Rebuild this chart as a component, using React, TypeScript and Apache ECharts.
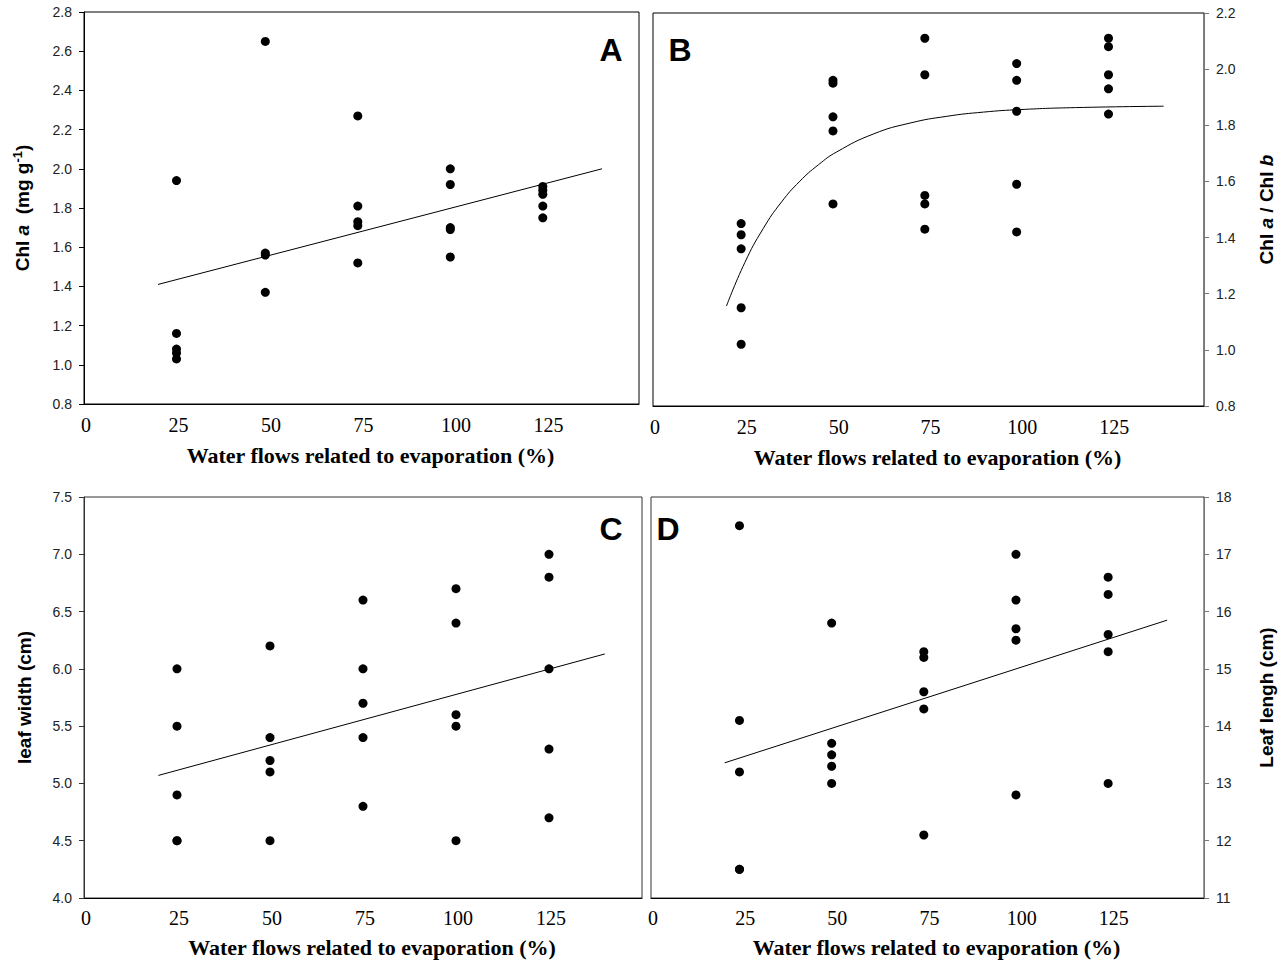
import React, { useEffect, useRef } from "react";
import * as echarts from "echarts";

// x positions of the treatment groups (water flow, % of evaporation)
const xGroupsA = [25, 49, 74, 99, 124];
const xGroupsB = [24, 49, 74, 99, 124];
const xGroupsC = [25, 50, 75, 100, 125];
const xGroupsD = [24, 49, 74, 99, 124];

// Panel A: Chl a (mg g-1)
const chlA = [
  [1.94, 1.16, 1.08, 1.06, 1.03],
  [2.65, 1.57, 1.56, 1.37],
  [2.27, 1.81, 1.73, 1.71, 1.52],
  [2.0, 1.92, 1.7, 1.69, 1.55],
  [1.91, 1.89, 1.87, 1.81, 1.75],
];
const fitAx = [20, 140];
const fitAy = [1.41, 2.0];

// Panel B: Chl a / Chl b
const chlRatio = [
  [1.45, 1.41, 1.36, 1.15, 1.02],
  [1.96, 1.95, 1.83, 1.78, 1.52],
  [2.11, 1.98, 1.55, 1.52, 1.43],
  [2.02, 1.96, 1.85, 1.59, 1.42],
  [2.11, 2.08, 1.98, 1.93, 1.84],
];
const fitBx = [20, 25, 30, 35, 40, 45, 50, 60, 70, 80, 90, 100, 115, 139];
const fitBy = [1.156, 1.311, 1.432, 1.527, 1.601, 1.659, 1.705, 1.769, 1.808, 1.832, 1.847, 1.856, 1.863, 1.868];

// Panel C: leaf width (cm)
const leafWidth = [
  [6.0, 5.5, 4.9, 4.5, 4.5],
  [6.2, 5.4, 5.2, 5.1, 4.5],
  [6.6, 6.0, 5.7, 5.4, 4.8],
  [6.7, 6.4, 5.6, 5.5, 4.5],
  [7.0, 6.8, 6.0, 5.3, 4.7],
];
const fitCx = [20, 140];
const fitCy = [5.07, 6.13];

// Panel D: Leaf length (cm)
const leafLength = [
  [17.5, 14.1, 13.2, 11.5, 11.5],
  [15.8, 13.7, 13.5, 13.3, 13.0],
  [15.3, 15.2, 14.6, 14.3, 12.1],
  [17.0, 16.2, 15.7, 15.5, 12.8],
  [16.6, 16.3, 15.6, 15.3, 13.0],
];
const fitDx = [20, 140];
const fitDy = [13.36, 15.85];

const xTitle = "Water flows related to evaporation (%)";
const SERIF = "'Times New Roman', 'Liberation Serif', serif";
const SANS = "Arial, 'Liberation Sans', sans-serif";

function points(xs: number[], groups: number[][]) {
  const out: number[][] = [];
  groups.forEach((g, i) => g.forEach((v) => out.push([xs[i], v])));
  return out;
}
function pairs(xs: number[], ys: number[]) {
  return xs.map((x, i) => [x, ys[i]]);
}

function xAxis(gridIndex: number, margin: number, nameGap: number) {
  return {
    type: "value",
    gridIndex,
    min: 0,
    max: 150,
    interval: 25,
    name: xTitle,
    nameLocation: "middle",
    nameGap,
    nameTextStyle: {
      fontFamily: SERIF,
      fontWeight: "bold",
      fontSize: 22,
      color: "#000",
      padding: [0, 0, 0, 18],
    },
    axisLine: { show: true, onZero: false, lineStyle: { color: "#000", width: 1 } },
    axisTick: { show: false },
    splitLine: { show: false },
    axisLabel: {
      margin,
      fontFamily: SERIF,
      fontSize: 20,
      color: "#000",
      padding: [0, 0, 0, 4],
      formatter: (v: number) => (v >= 150 ? "" : String(v)),
    },
  };
}

function yAxis(
  gridIndex: number,
  min: number,
  max: number,
  interval: number,
  decimals: number,
  position: string,
  lineColor: string,
  name: string,
  rich: any,
  nameGap: number
) {
  return {
    type: "value",
    gridIndex,
    min,
    max,
    interval,
    position,
    z: 5,
    name,
    nameLocation: "middle",
    nameRotate: 90,
    nameGap,
    nameTextStyle: { rich },
    axisLine: { show: true, onZero: false, lineStyle: { color: lineColor, width: 1 } },
    axisTick: { show: true, inside: false, length: 5, lineStyle: { color: lineColor } },
    splitLine: { show: false },
    axisLabel: {
      margin: 12,
      fontFamily: SANS,
      fontSize: 14,
      color: "#222",
      formatter: (v: number) => v.toFixed(decimals),
    },
  };
}

const baseRich = {
  b: { fontFamily: SANS, fontWeight: "bold", fontSize: 19, color: "#000" },
  i: { fontFamily: SANS, fontWeight: "bold", fontStyle: "italic", fontSize: 19, color: "#000" },
  sup: { fontFamily: SANS, fontWeight: "bold", fontSize: 13, color: "#000", padding: [0, 0, 10, 0] },
};

function scatter(idx: number, data: number[][]) {
  return {
    type: "scatter",
    xAxisIndex: idx,
    yAxisIndex: idx,
    data,
    symbol: "circle",
    symbolSize: 9,
    itemStyle: { color: "#000", opacity: 1 },
    z: 3,
  };
}
function fitLine(idx: number, data: number[][], smooth: boolean) {
  return {
    type: "line",
    xAxisIndex: idx,
    yAxisIndex: idx,
    data,
    smooth,
    showSymbol: false,
    symbol: "none",
    lineStyle: { color: "#000", width: 1 },
    z: 2,
  };
}

export default function App() {
  const ref = useRef<HTMLDivElement>(null);
  useEffect(() => {
    if (!ref.current) return;
    const chart = echarts.init(ref.current, undefined, { renderer: "svg" });
    const letter = (text: string, x: number, y: number) => ({
      type: "text",
      x,
      y,
      style: {
        text,
        fill: "#000",
        font: `bold 32px ${SANS}`,
        textAlign: "center",
        textVerticalAlign: "middle",
      },
    });
    chart.setOption({
      animation: false,
      backgroundColor: "#fff",
      grid: [
        { left: 84, top: 12, width: 555, height: 392, show: true, borderColor: "#000", borderWidth: 1 },
        { left: 653, top: 13, width: 551, height: 393, show: true, borderColor: "#000", borderWidth: 1 },
        { left: 84, top: 497, width: 558, height: 401, show: true, borderColor: "#333", borderWidth: 1 },
        { left: 651, top: 497, width: 553, height: 401, show: true, borderColor: "#333", borderWidth: 1 },
      ],
      xAxis: [xAxis(0, 11, 40), xAxis(1, 11, 40), xAxis(2, 10, 38), xAxis(3, 10, 38)],
      yAxis: [
        yAxis(0, 0.8, 2.8, 0.2, 1, "left", "#000", "{b|Chl }{i|a}{b|  (mg g}{sup|-1}{b|)}", baseRich, 50),
        yAxis(1, 0.8, 2.2, 0.2, 1, "right", "#777", "{b|Chl }{i|a}{b| / Chl }{i|b}", baseRich, 53),
        yAxis(2, 4.0, 7.5, 0.5, 1, "left", "#333", "{b|leaf width (cm)}", baseRich, 50),
        yAxis(3, 11, 18, 1, 0, "right", "#777", "{b|Leaf lengh (cm)}", baseRich, 53),
      ],
      series: [
        scatter(0, points(xGroupsA, chlA)),
        fitLine(0, pairs(fitAx, fitAy), false),
        scatter(1, points(xGroupsB, chlRatio)),
        fitLine(1, pairs(fitBx, fitBy), true),
        scatter(2, points(xGroupsC, leafWidth)),
        fitLine(2, pairs(fitCx, fitCy), false),
        scatter(3, points(xGroupsD, leafLength)),
        fitLine(3, pairs(fitDx, fitDy), false),
      ],
      graphic: [
        letter("A", 611, 50),
        letter("B", 680, 50),
        letter("C", 611, 529),
        letter("D", 668, 529),
      ],
    });
    return () => chart.dispose();
  }, []);
  return (
    <div
      ref={ref}
      style={{ position: "absolute", left: 0, top: 0, width: 1284, height: 966, background: "#fff" }}
    />
  );
}
